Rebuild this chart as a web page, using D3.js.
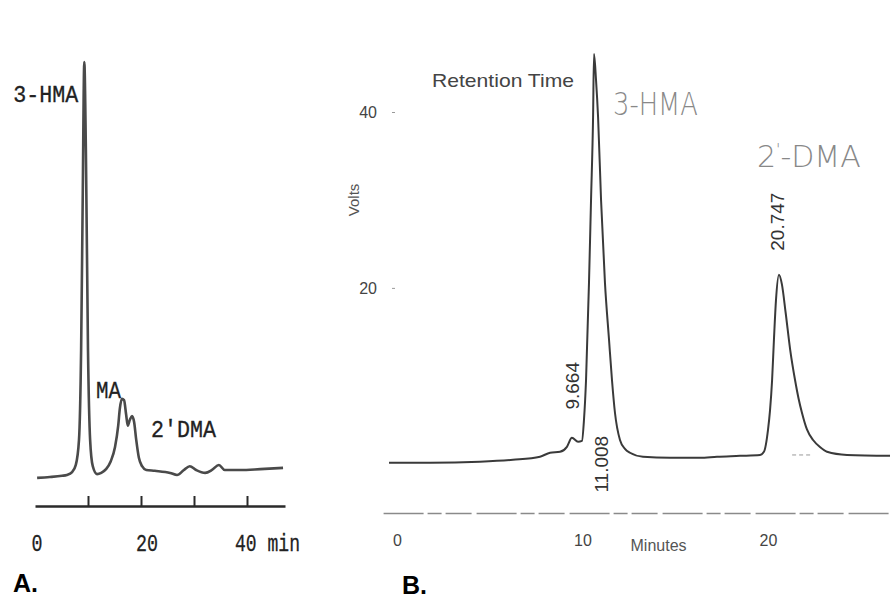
<!DOCTYPE html>
<html>
<head>
<meta charset="utf-8">
<script src="https://cdn.jsdelivr.net/npm/d3@7"></script>
<style>
  body { margin: 0; background: #fff; }
  svg { display: block; }
</style>
</head>
<body>
<div id="chart"></div>
<script>
// Panel A: old chromatogram (minutes, relative response)
const timeA = [0.4, 2.8, 5.1, 6.0, 7.0, 7.7, 8.3, 8.7, 9.0, 9.3, 9.6, 10.0, 10.4, 10.9, 11.7, 12.5,
  13.4, 14.3, 15.1, 15.7, 16.0, 16.4, 16.8, 17.2, 17.5, 17.9, 18.3, 18.7, 19.1, 19.6, 20.2, 21.0,
  22.6, 25.5, 26.8, 28.1, 29.2, 30.4, 32.1, 33.4, 34.7, 35.8, 38.7, 42.5, 46.8];
const signalA = [0.5, 0.7, 1.0, 1.2, 1.9, 3.6, 9.6, 31, 67, 100, 79, 31, 9.6, 3.3, 1.4, 1.7,
  2.6, 4.5, 7.9, 13, 17, 19.4, 19.1, 15.6, 13, 14.4, 15.3, 13.9, 9.6, 5.3, 3.3, 2.4,
  2.2, 1.7, 1.2, 2.4, 3.3, 2.4, 1.7, 2.4, 3.6, 2.4, 2.4, 2.6, 2.9];
const ticksA = [10, 20, 30, 40];
const tickLabelsA = ["0", "20", "40 min"];
const peaksA = ["3-HMA", "MA", "2'DMA"];

// Panel B: HPLC trace (minutes, volts)
const timeB = [-0.43, 1.78, 4.47, 6.25, 7.71, 8.25, 8.79, 9.16, 9.43, 9.76, 9.97, 10.08, 10.19,
  10.35, 10.46, 10.57, 10.62, 10.73, 10.84, 11.0, 11.21, 11.43, 11.59, 11.75, 12.02, 12.29, 12.56,
  13.26, 14.72, 16.33, 17.25, 18.49, 19.57, 19.78, 20.0, 20.11, 20.22, 20.32, 20.43, 20.59, 20.75,
  20.95, 21.2, 21.46, 21.65, 21.83, 22.1, 22.43, 22.8, 23.18, 24.26, 26.58];
const voltsB = [0.11, 0.11, 0.23, 0.45, 0.8, 1.25, 1.36, 1.93, 2.95, 2.5, 2.6, 5.0, 9.5,
  20.6, 30, 39.4, 46.6, 43.6, 39.4, 30, 20.6, 14.1, 9.5, 5.8, 2.7, 1.7, 1.25,
  0.8, 0.68, 0.68, 0.8, 0.9, 1.0, 1.36, 3.86, 6.1, 9.5, 14.1, 18.6, 21.5, 20.4,
  17.2, 12.9, 9.5, 7.4, 5.8, 3.9, 2.7, 1.9, 1.36, 1.0, 0.9];
const xTicksB = [0, 10, 20];
const yTicksB = [20, 40];
const retentionB = ["9.664", "11.008", "20.747"];

const width = 890, height = 600;
const svg = d3.select("#chart").append("svg")
  .attr("width", width)
  .attr("height", height);

// ---------- Panel A ----------
const xA = d3.scaleLinear().domain([0, 47.17]).range([35, 285]);
const yA = d3.scaleLinear().domain([0, 100]).range([480, 62]);
const mono = "'Liberation Mono', 'DejaVu Sans Mono', monospace";

const gA = svg.append("g");

gA.append("path")
  .datum(d3.zip(timeA, signalA))
  .attr("fill", "none")
  .attr("stroke", "#4a4a4a")
  .attr("stroke-width", 2.6)
  .attr("stroke-linejoin", "round")
  .attr("d", d3.line().x(d => xA(d[0])).y(d => yA(d[1])).curve(d3.curveMonotoneX));

const axisA = gA.append("g")
  .attr("transform", "translate(0,506)")
  .call(d3.axisBottom(xA).tickValues(ticksA).tickSizeInner(-10).tickSizeOuter(0).tickFormat(""));
axisA.select(".domain").attr("stroke", "#2a2a2a").attr("stroke-width", 2.4);
axisA.selectAll(".tick line").attr("stroke", "#2a2a2a").attr("stroke-width", 2);

const labA = gA.append("g")
  .attr("font-family", mono)
  .attr("font-size", 24)
  .attr("fill", "#222")
  .attr("stroke", "#222")
  .attr("stroke-width", 0.3);

labA.append("text").attr("x", xA(0) + 2).attr("y", 551).attr("text-anchor", "middle")
  .attr("textLength", 11).attr("lengthAdjust", "spacingAndGlyphs").text(tickLabelsA[0]);
labA.append("text").attr("x", xA(20) - 5).attr("y", 551)
  .attr("textLength", 22).attr("lengthAdjust", "spacingAndGlyphs").text(tickLabelsA[1]);
labA.append("text").attr("x", xA(40) - 12).attr("y", 551)
  .attr("textLength", 65).attr("lengthAdjust", "spacingAndGlyphs").text(tickLabelsA[2]);

labA.append("text").attr("x", xA(9.3) - 71).attr("y", 102)
  .attr("textLength", 65).attr("lengthAdjust", "spacingAndGlyphs").text(peaksA[0]);
labA.append("text").attr("x", xA(16.4) - 26).attr("y", 398)
  .attr("textLength", 25).attr("lengthAdjust", "spacingAndGlyphs").text(peaksA[1]);
labA.append("text").attr("x", xA(18.3) + 19).attr("y", 437)
  .attr("textLength", 65).attr("lengthAdjust", "spacingAndGlyphs").text(peaksA[2]);

svg.append("text")
  .attr("x", 13).attr("y", 592)
  .attr("font-family", "'Liberation Sans', Arial, sans-serif")
  .attr("font-weight", "bold")
  .attr("font-size", 25)
  .attr("fill", "#000")
  .text("A.");

// ---------- Panel B ----------
const xB = d3.scaleLinear().domain([0, 20]).range([397, 768]);
const yB = d3.scaleLinear().domain([-5.6, 40]).range([513, 112]);
const sans = "'Liberation Sans', Arial, sans-serif";

const gB = svg.append("g");

const xAxisB = gB.append("g")
  .attr("transform", `translate(0,${yB(-5.6)})`)
  .call(d3.axisBottom(d3.scaleLinear().domain([-0.75, 26.6]).range([xB(-0.75), xB(26.6)]))
    .tickValues(xTicksB).tickSize(0).tickPadding(22).tickFormat(d3.format("d")));
xAxisB.select(".domain").attr("stroke", "#8a8a8a").attr("stroke-width", 1.4)
  .attr("stroke-dasharray", "40 4 14 4 26 5");
xAxisB.selectAll(".tick text").attr("font-family", sans).attr("font-size", 16).attr("fill", "#444");

const yAxisB = gB.append("g")
  .attr("transform", `translate(395,0)`)
  .call(d3.axisLeft(yB).tickValues(yTicksB).tickSize(3).tickPadding(15));
yAxisB.select(".domain").remove();
yAxisB.selectAll(".tick line").attr("stroke", "#999");
yAxisB.selectAll(".tick text").attr("font-family", sans).attr("font-size", 16).attr("fill", "#444");

gB.append("text")
  .attr("transform", `translate(359,${yB(30)}) rotate(-90)`)
  .attr("text-anchor", "middle")
  .attr("font-family", sans).attr("font-size", 15).attr("fill", "#555")
  .text("Volts");

gB.append("text")
  .attr("x", xB(14.1)).attr("y", 551)
  .attr("text-anchor", "middle")
  .attr("font-family", sans).attr("font-size", 16).attr("fill", "#555")
  .text("Minutes");

gB.append("text")
  .attr("x", 432).attr("y", 87)
  .attr("font-family", sans).attr("font-size", 19).attr("fill", "#444")
  .attr("textLength", 142).attr("lengthAdjust", "spacingAndGlyphs")
  .text("Retention Time");

gB.append("path")
  .datum(d3.zip(timeB, voltsB))
  .attr("fill", "none")
  .attr("stroke", "#3a3a3a")
  .attr("stroke-width", 2)
  .attr("stroke-linejoin", "round")
  .attr("d", d3.line().x(d => xB(d[0])).y(d => yB(d[1])).curve(d3.curveMonotoneX));

// integrator baseline mark after the second peak
gB.append("line")
  .attr("x1", xB(21.3)).attr("x2", xB(22.3))
  .attr("y1", yB(1.0)).attr("y2", yB(1.0))
  .attr("stroke", "#999").attr("stroke-dasharray", "4 3");

// retention time labels (rotated)
const rot = [
  { t: 9.43, v: 2.95, dx: 1, dy: -52 },
  { t: 11.0, v: 0.4, dx: 0, dy: 4 },
  { t: 20.59, v: 21.5, dx: -1, dy: -53 }
];
rot.forEach((r, i) => {
  const cx = xB(r.t) + r.dx;
  const cy = yB(r.v) + r.dy;
  gB.append("text")
    .attr("transform", `translate(${cx},${cy}) rotate(-90)`)
    .attr("text-anchor", "middle")
    .attr("dominant-baseline", "central")
    .attr("font-family", sans).attr("font-size", 19).attr("fill", "#333")
    .text(retentionB[i]);
});

// hand-written peak names
const hand = "'DejaVu Sans', sans-serif";
gB.append("text")
  .attr("x", xB(10.62) + 19).attr("y", 115)
  .attr("font-family", hand).attr("font-weight", 200)
  .attr("font-size", 32).attr("fill", "#888")
  .attr("textLength", 85).attr("lengthAdjust", "spacingAndGlyphs")
  .text("3-HMA");

const dma = gB.append("text")
  .attr("x", xB(20.59) - 22).attr("y", 167)
  .attr("font-family", hand).attr("font-weight", 200)
  .attr("font-size", 30).attr("fill", "#888");
dma.append("tspan").text("2");
dma.append("tspan").attr("dy", -12).attr("font-size", 16).text("'");
dma.append("tspan").attr("dy", 12).text("-DMA");

svg.append("text")
  .attr("x", 402).attr("y", 594)
  .attr("font-family", sans)
  .attr("font-weight", "bold")
  .attr("font-size", 25)
  .attr("fill", "#000")
  .text("B.");
</script>
</body>
</html>
